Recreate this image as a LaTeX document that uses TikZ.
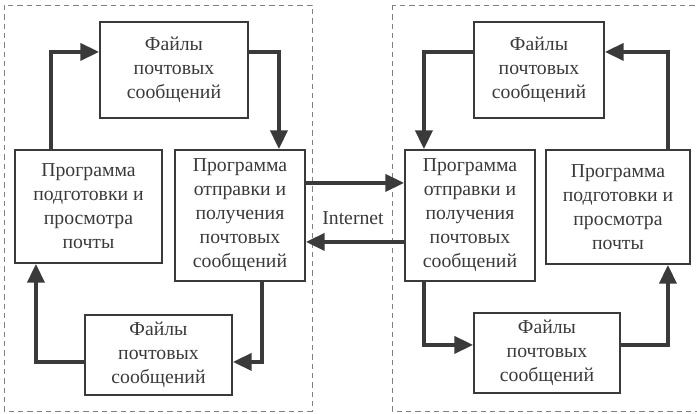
\documentclass[tikz,border=0pt]{standalone}
\usepackage{fontspec}
\setmainfont{Liberation Serif}
\usetikzlibrary{arrows.meta,calc}
\definecolor{ink}{HTML}{3A3A3A}

\begin{document}
\begin{tikzpicture}[x=0.75pt,y=-0.75pt,
    every node/.style={font=\fontsize{14.8}{18}\selectfont, text=ink},
    box/.style={draw=ink, line width=1.6pt, align=center, inner sep=0pt},
    wh/.style 2 args={minimum width=#1*0.75pt, minimum height=#2*0.75pt},
    flow/.style={draw=ink, line width=2.4pt, -{Triangle[length=14pt,width=13pt]}},
    zone/.style={draw=gray, line width=0.7pt, dash pattern=on 4pt off 3pt}]
  \useasboundingbox (0,0) rectangle (697,414);
  \draw[zone] (4,5) rectangle (312,411);
  \draw[zone] (392,5) rectangle (702,411);
  % left side
  \node[box, wh={148}{96}] (fl1) at (174,70) {Файлы\\почтовых\\сообщений};
  \node[box, wh={147}{113}] (pl1) at (88.5,206.5) {Программа\\подготовки и\\просмотра\\почты};
  \node[box, wh={130}{131}] (sl1) at (240,215.5) {Программа\\отправки и\\получения\\почтовых\\сообщений};
  \node[box, wh={147}{80}] (fb1) at (158.5,355) {Файлы\\почтовых\\сообщений};
  % right side
  \node[box, wh={130}{96}] (fr2) at (539,70) {Файлы\\почтовых\\сообщений};
  \node[box, wh={130}{131}] (sr2) at (470,215.5) {Программа\\отправки и\\получения\\почтовых\\сообщений};
  \node[box, wh={144}{114}] (pr2) at (618,207) {Программа\\подготовки и\\просмотра\\почты};
  \node[box, wh={146}{80}] (fb2) at (547,353) {Файлы\\почтовых\\сообщений};
  \node (inet) at (353,218) {Internet};
  \draw[flow] ($(pl1.north west)+(37,0)$) |- ($(fl1.north west)+(0,31)$);
  \draw[flow] ($(fl1.north east)+(0,31)$) -| ($(sl1.north west)+(105,0)$);
  \draw[flow] ($(sl1.south west)+(88,0)$) |- ($(fb1.north east)+(0,48)$);
  \draw[flow] ($(fb1.north west)+(0,48)$) -| ($(pl1.south west)+(22,0)$);
  \draw[flow] ($(fr2.north west)+(0,31)$) -| ($(sr2.north west)+(20,0)$);
  \draw[flow] ($(pr2.north west)+(123,0)$) |- ($(fr2.north east)+(0,31)$);
  \draw[flow] ($(sr2.south west)+(20,0)$) |- ($(fb2.north west)+(0,33)$);
  \draw[flow] ($(fb2.north east)+(0,33)$) -| ($(pr2.south west)+(123,0)$);
  \draw[flow] ($(sl1.north east)+(0,34)$) -- ($(sr2.north west)+(0,34)$);
  \draw[flow] ($(sr2.north west)+(0,93)$) -- ($(sl1.north east)+(0,93)$);
\end{tikzpicture}
\end{document}
